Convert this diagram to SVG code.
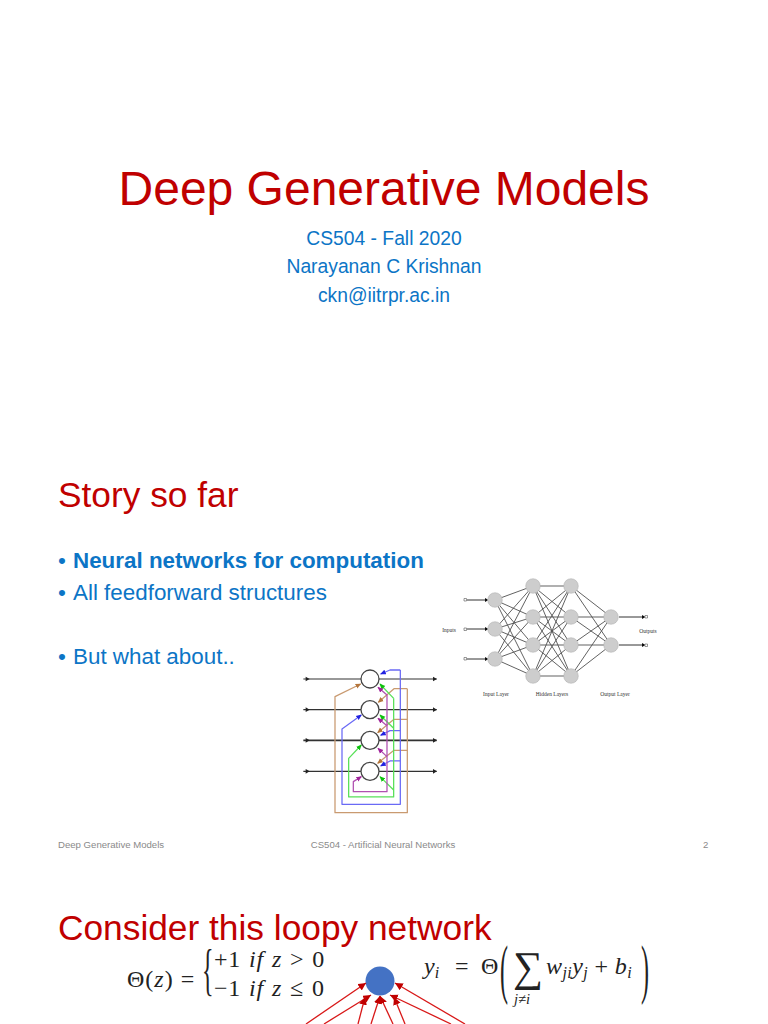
<svg xmlns="http://www.w3.org/2000/svg" width="768" height="1024" viewBox="0 0 768 1024">
<style>
text{font-family:"Liberation Sans",Arial,sans-serif}
.title{fill:#c00000;font-size:48px}
.head{fill:#c00000;font-size:35.3px}
.sub{fill:#0c75c6;font-size:19.3px;text-anchor:middle}
.body{fill:#0c75c6;font-size:22.4px}
.foot{fill:#8a8a8a;font-size:9.6px}
.m{font-family:"Liberation Serif","DejaVu Serif",serif;fill:#222;font-size:24px}
.i{font-style:italic}
.s{font-size:16px}
.lab{font-family:"Liberation Serif",serif;font-size:5.500px;fill:#333;text-anchor:middle}
.nn{fill:#cdcdcd;stroke:#aaa;stroke-width:.5}
.e{stroke:#505050;stroke-width:.9;fill:none}
.rn{fill:#fff;stroke:#444;stroke-width:3.800}
.h{stroke:#333;stroke-width:3.500;fill:none}
.r{fill:none;stroke-width:3.800;stroke-linejoin:round}
.red{stroke:#d81818;stroke-width:1.300;fill:none;marker-end:url(#ar)}
</style>
<defs>
<filter id="soft" x="-5%" y="-5%" width="110%" height="110%"><feGaussianBlur stdDeviation="0.45"/></filter>
<marker id="ar" markerWidth="7" markerHeight="7" refX="6" refY="3" orient="auto" markerUnits="strokeWidth"><path d="M0 0L6 3L0 6z" fill="#c00000"/></marker>
<marker id="a-br" markerWidth="5" markerHeight="5" refX="4" refY="2.500" orient="auto" markerUnits="strokeWidth"><path d="M0 .5L4.500 2.500L0 4.500z" fill="#b5763c"/></marker>
<marker id="a-bl" markerWidth="5" markerHeight="5" refX="4" refY="2.500" orient="auto" markerUnits="strokeWidth"><path d="M0 .5L4.500 2.500L0 4.500z" fill="#2020e0"/></marker>
<marker id="a-gr" markerWidth="5" markerHeight="5" refX="4" refY="2.500" orient="auto" markerUnits="strokeWidth"><path d="M0 .5L4.500 2.500L0 4.500z" fill="#10c010"/></marker>
<marker id="a-pu" markerWidth="5" markerHeight="5" refX="4" refY="2.500" orient="auto" markerUnits="strokeWidth"><path d="M0 .5L4.500 2.500L0 4.500z" fill="#a0209a"/></marker>
</defs>
<rect width="768" height="1024" fill="#fff"/>

<g id="slide1-text">
<text class="title" x="384" y="205" text-anchor="middle">Deep Generative Models</text>
<text class="sub" x="384" y="245">CS504 - Fall 2020</text>
<text class="sub" x="384" y="273">Narayanan C Krishnan</text>
<text class="sub" x="384" y="302">ckn@iitrpr.ac.in</text>
</g>

<g id="slide2-text">
<text class="head" x="58" y="507">Story so far</text>
<text class="body" x="58" y="568">•</text><text class="body" x="73" y="568" font-weight="bold">Neural networks for computation</text>
<text class="body" x="58" y="600">•</text><text class="body" x="73" y="600">All feedforward structures</text>
<text class="body" x="58" y="664">•</text><text class="body" x="73" y="664">But what about..</text>
<text class="foot" x="58" y="848">Deep Generative Models</text>
<text class="foot" x="383" y="848" text-anchor="middle">CS504 - Artificial Neural Networks</text>
<text class="foot" x="703" y="848">2</text>
</g>

<g id="feedforward-net">
<g id="ff-connectors" filter="url(#soft)">
<path class="e" d="M495 600L533 586M495 600L533 617M495 600L533 645M495 600L533 676M495 629L533 586M495 629L533 617M495 629L533 645M495 629L533 676M495 659L533 586M495 659L533 617M495 659L533 645M495 659L533 676"/>
<path class="e" d="M533 586L571 586M533 586L571 617M533 586L571 645M533 586L571 676M533 617L571 586M533 617L571 617M533 617L571 645M533 617L571 676M533 645L571 586M533 645L571 617M533 645L571 645M533 645L571 676M533 676L571 586M533 676L571 617M533 676L571 645M533 676L571 676"/>
<path class="e" d="M571 586L611 617M571 586L611 645M571 617L611 617M571 617L611 645M571 645L611 617M571 645L611 645M571 676L611 617M571 676L611 645"/>
<path d="M467 600H487M467 629H487M467 659H487M619 617H644M619 645H644" stroke="#333" stroke-width="1" fill="none"/>
<path d="M485 598L488.500 600L485 602zM485 627L488.500 629L485 631zM485 657L488.500 659L485 661zM642 615L645.500 617L642 619zM642 643L645.500 645L642 647z" fill="#111"/>
<path d="M464 598.500h2.500v2.500h-2.500zM464 628h2.500v2.500h-2.500zM464 657.500h2.500v2.500h-2.500zM645 615.500h2.500v2.500h-2.500zM645 644h2.500v2.500h-2.500z" fill="#fff" stroke="#555" stroke-width=".6"/>
</g>
<g id="ff-nodes" filter="url(#soft)">
<circle class="nn" cx="495" cy="600" r="7.300"/><circle class="nn" cx="495" cy="629" r="7.300"/><circle class="nn" cx="495" cy="659" r="7.300"/>
<circle class="nn" cx="533" cy="586" r="7.300"/><circle class="nn" cx="533" cy="617" r="7.300"/><circle class="nn" cx="533" cy="645" r="7.300"/><circle class="nn" cx="533" cy="676" r="7.300"/>
<circle class="nn" cx="571" cy="586" r="7.300"/><circle class="nn" cx="571" cy="617" r="7.300"/><circle class="nn" cx="571" cy="645" r="7.300"/><circle class="nn" cx="571" cy="676" r="7.300"/>
<circle class="nn" cx="611" cy="617" r="7.300"/><circle class="nn" cx="611" cy="645" r="7.300"/>
</g>
<text class="lab" x="449" y="632">Inputs</text>
<text class="lab" x="648" y="633">Outputs</text>
<text class="lab" x="496" y="696">Input Layer</text>
<text class="lab" x="552" y="696">Hidden Layers</text>
<text class="lab" x="615" y="696">Output Layer</text>
</g>

<g id="recurrent-net" transform="translate(295 660) scale(.3333)" filter="url(#soft)">
<g id="rn-connectors">
<path class="h" d="M25 57H200M250 57H425M25 149H200M250 149H425M250 334H425M25 334H200"/>
<path class="h" style="stroke-width:5" d="M25 241H200M250 241H425"/>
<path d="M32 50L44 57L32 64zM32 142L44 149L32 156zM32 234L44 241L32 248zM32 327L44 334L32 341zM414 50L426 57L414 64zM414 142L426 149L414 156zM414 234L426 241L414 248zM414 327L426 334L414 341z" fill="#222"/>
<g stroke="#c99a70" class="r" marker-end="url(#a-br)">
<path d="M337 86V458H120V110L197 72"/>
<path d="M337 86H297L250 127"/><path d="M337 178H297L248 218"/><path d="M337 271H297L248 310"/>
</g>
<g stroke="#6a6af5" class="r" marker-end="url(#a-bl)">
<path d="M316 30V433H141V207L199 165"/>
<path d="M316 30H285L257 42"/><path d="M316 212H285L257 226"/><path d="M316 303H285L257 318"/>
</g>
<g stroke="#58e058" class="r" marker-end="url(#a-gr)">
<path d="M296 115V411H161V295L199 255"/>
<path d="M296 115L255 72"/><path d="M296 205L255 165"/><path d="M296 390L255 350"/>
</g>
<g stroke="#b050b0" class="r" marker-end="url(#a-pu)">
<path d="M276 105V395H175V365L199 350"/>
<path d="M276 105L249 82"/><path d="M276 197L249 175"/><path d="M276 290L249 265"/>
</g>
</g>
<g id="rn-nodes">
<circle class="rn" cx="225" cy="57" r="27"/><circle class="rn" cx="225" cy="149" r="27"/><circle class="rn" cx="225" cy="241" r="27"/><circle class="rn" cx="225" cy="334" r="27"/>
</g>
</g>

<g id="slide3-text">
<text class="head" x="58" y="940">Consider this loopy network</text>
</g>

<g id="formula-theta">
<text class="m" x="127" y="987" letter-spacing="1">Θ(<tspan class="i">z</tspan>) =</text>
<text class="m" transform="translate(202 989) scale(1 2.400)" style="font-size:24px">{</text>
<text class="m" x="214" y="967" letter-spacing=".7" word-spacing="1.400">+1 <tspan class="i">if z</tspan> &gt; 0</text>
<text class="m" x="214" y="996" letter-spacing=".7" word-spacing="1.400">−1 <tspan class="i">if z</tspan> ≤ 0</text>
</g>

<g id="formula-y">
<text class="m" x="424" y="974"><tspan class="i">y</tspan><tspan class="i s" dy="4">i</tspan></text>
<text class="m" x="455" y="974">=</text>
<text class="m" x="481" y="974">Θ</text>
<text class="m" transform="translate(500 991) scale(1 2.700)" style="font-size:24px">(</text>
<text class="m" x="513" y="981" style="font-size:42px">∑</text>
<text class="m" x="514" y="1004" style="font-size:14.5px"><tspan class="i">j≠i</tspan></text>
<text class="m" x="546" y="974" letter-spacing=".4"><tspan class="i">w</tspan><tspan class="i s" dy="4">ji</tspan><tspan class="i" dy="-4">y</tspan><tspan class="i s" dy="4">j</tspan><tspan dy="-4"> + </tspan><tspan class="i">b</tspan><tspan class="i s" dy="4">i</tspan></text>
<text class="m" transform="translate(641 991) scale(1 2.700)" style="font-size:24px">)</text>
</g>

<g id="node-output">
<circle cx="380" cy="981" r="14.500" fill="#4472c4"/>
</g>
<g id="loopy-connectors">
<path class="red" d="M306 1024L366 983"/>
<path class="red" d="M324 1024L371 995"/>
<path class="red" d="M358 1024L365 997"/>
<path class="red" d="M371 1024L380 996"/>
<path class="red" d="M393 1024L380 996"/>
<path class="red" d="M405 1024L394 997"/>
<path class="red" d="M451 1024L390 995"/>
<path class="red" d="M465 1024L395 983"/>
</g>
</svg>
